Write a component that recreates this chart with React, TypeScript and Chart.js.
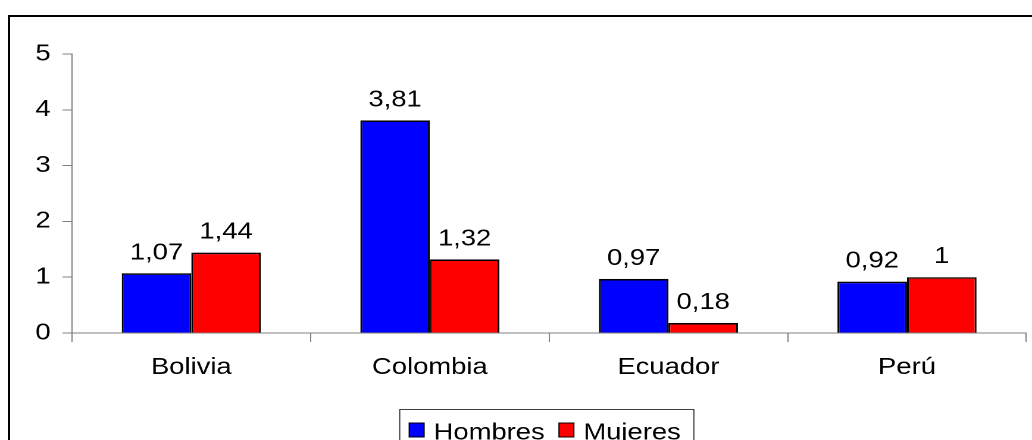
import { useEffect, useRef } from 'react';
import { Chart, registerables } from 'chart.js';

Chart.register(...registerables);

// ---- data ----
const categories = ['Bolivia', 'Colombia', 'Ecuador', 'Perú'];
const seriesNames = ['Hombres', 'Mujeres'];
const hombres = [1.07, 3.81, 0.97, 0.92];
const mujeres = [1.44, 1.32, 0.18, 1];
const yTicks = [0, 1, 2, 3, 4, 5];

// ---- styles ----
const seriesColors = ['#0000FF', '#FF0000'];
const FONT = "Arial, 'Liberation Sans', sans-serif";
const FONT_SIZE = 23;
const STRETCH = 1.19; // the reference is horizontally stretched
const LOGICAL_W = Math.round(1032 / STRETCH);

const formatValue = (v: number) => String(v).replace('.', ',');

const valueLabels = {
  id: 'valueLabels',
  afterDatasetsDraw(chart: any) {
    const ctx = chart.ctx;
    ctx.save();
    ctx.font = `${FONT_SIZE}px ${FONT}`;
    ctx.fillStyle = '#000';
    ctx.textAlign = 'center';
    ctx.textBaseline = 'alphabetic';
    chart.data.datasets.forEach((ds: any, i: number) => {
      const meta = chart.getDatasetMeta(i);
      meta.data.forEach((bar: any, j: number) => {
        ctx.fillText(formatValue(ds.data[j]), bar.x, bar.y - 14);
      });
    });
    ctx.restore();
  },
};

const boxLegend = {
  id: 'boxLegend',
  afterDraw(chart: any) {
    const ctx = chart.ctx;
    ctx.save();
    ctx.font = `${FONT_SIZE}px ${FONT}`;
    const items = chart.data.datasets.map((ds: any) => ({
      label: ds.label,
      color: ds.backgroundColor,
      w: ctx.measureText(ds.label).width,
    }));
    const padL = 8, padR = 11, sqW = 12.5, sqH = 14, gapSq = 8, gapItem = 12;
    let total = padL + padR;
    items.forEach((it: any, i: number) => {
      total += sqW + gapSq + it.w + (i < items.length - 1 ? gapItem : 0);
    });
    const cx = (chart.chartArea.left + chart.chartArea.right) / 2 - 2;
    const left = cx - total / 2;
    const top = 409.5;
    ctx.strokeStyle = '#404040';
    ctx.lineWidth = 1;
    ctx.strokeRect(left, top, total, 100);
    let x = left + padL;
    items.forEach((it: any) => {
      ctx.fillStyle = it.color;
      ctx.fillRect(x, 423, sqW, sqH);
      ctx.strokeStyle = '#000';
      ctx.strokeRect(x, 423, sqW, sqH);
      x += sqW + gapSq;
      ctx.fillStyle = '#000';
      ctx.textAlign = 'left';
      ctx.textBaseline = 'alphabetic';
      ctx.fillText(it.label, x, 439.5);
      x += it.w + gapItem;
    });
    ctx.restore();
  },
};

export default function App() {
  const ref = useRef<HTMLCanvasElement>(null);

  useEffect(() => {
    if (!ref.current) return;
    const chart = new Chart(ref.current, {
      type: 'bar',
      data: {
        labels: categories,
        datasets: [
          {
            label: seriesNames[0],
            data: hombres,
            backgroundColor: seriesColors[0],
            borderColor: '#000',
            borderWidth: 1.6,
            categoryPercentage: 0.583,
            barPercentage: 1,
          },
          {
            label: seriesNames[1],
            data: mujeres,
            backgroundColor: seriesColors[1],
            borderColor: '#000',
            borderWidth: 1.6,
            categoryPercentage: 0.583,
            barPercentage: 1,
          },
        ],
      },
      options: {
        responsive: false,
        animation: false,
        devicePixelRatio: 2,
        layout: {
          padding: { left: 0, right: LOGICAL_W - 1026 / STRETCH, top: 54, bottom: 37 },
        },
        plugins: {
          legend: { display: false },
          tooltip: { enabled: false },
        },
        scales: {
          x: {
            grid: {
              display: true,
              drawOnChartArea: false,
              tickLength: 9,
              color: '#808080',
              offset: true,
            },
            border: { color: '#808080', width: 1 },
            ticks: {
              color: '#000',
              font: { family: FONT, size: FONT_SIZE },
              padding: 12,
              maxRotation: 0,
            },
            afterFit: (s: any) => {
              s.height = 70;
            },
          },
          y: {
            min: 0,
            max: 5,
            ticks: {
              stepSize: 1,
              color: '#000',
              font: { family: FONT, size: FONT_SIZE },
              padding: 10,
            },
            afterBuildTicks: (s: any) => {
              s.ticks = yTicks.map((v) => ({ value: v }));
            },
            grid: { drawOnChartArea: false, tickLength: 8, color: '#808080' },
            border: { color: '#808080', width: 1 },
            afterFit: (s: any) => {
              s.width = 72 / STRETCH;
            },
          },
        },
      },
      plugins: [valueLabels, boxLegend],
    });
    return () => chart.destroy();
  }, []);

  return (
    <div
      style={{
        position: 'fixed',
        left: 0,
        top: 0,
        width: 1032,
        height: 440,
        overflow: 'hidden',
        background: '#fff',
      }}
    >
      <div
        style={{
          position: 'absolute',
          left: 8,
          top: 15,
          width: 1200,
          height: 800,
          border: '2px solid #000',
          boxSizing: 'border-box',
        }}
      />
      <canvas
        ref={ref}
        width={LOGICAL_W}
        height={440}
        style={{ position: 'absolute', left: 0, top: 0, width: '1032px', height: '440px' }}
      />
    </div>
  );
}
